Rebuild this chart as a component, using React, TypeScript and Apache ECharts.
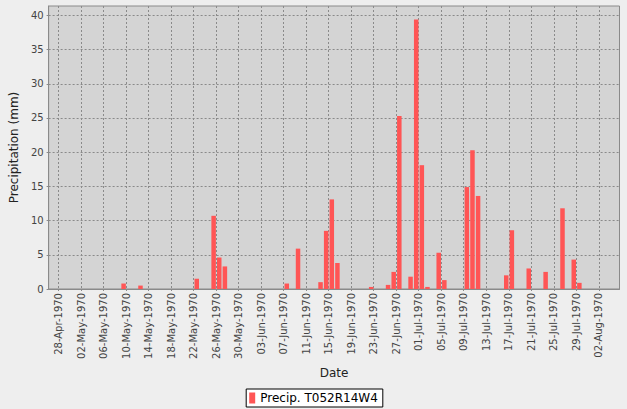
import React, { useEffect, useRef } from 'react';
import * as echarts from 'echarts';

const MONTHS = ['Jan', 'Feb', 'Mar', 'Apr', 'May', 'Jun', 'Jul', 'Aug', 'Sep', 'Oct', 'Nov', 'Dec'];

const precipDates = [
  '1970-05-09', '1970-05-12', '1970-05-22', '1970-05-25', '1970-05-26', '1970-05-27',
  '1970-06-07', '1970-06-09', '1970-06-13', '1970-06-14', '1970-06-15', '1970-06-16',
  '1970-06-22', '1970-06-25', '1970-06-26', '1970-06-27', '1970-06-29', '1970-06-30',
  '1970-07-01', '1970-07-02', '1970-07-04', '1970-07-05', '1970-07-09', '1970-07-10',
  '1970-07-11', '1970-07-16', '1970-07-17', '1970-07-20', '1970-07-23', '1970-07-26',
  '1970-07-28', '1970-07-29',
];
const precipValues = [
  0.8, 0.5, 1.5, 10.7, 4.6, 3.3,
  0.8, 5.9, 1.0, 8.5, 13.1, 3.8,
  0.3, 0.6, 2.5, 25.3, 1.8, 39.4,
  18.1, 0.3, 5.3, 1.3, 14.9, 20.3,
  13.6, 2.0, 8.6, 3.0, 2.5, 11.8,
  4.3, 0.9,
];

const tickLabels = [
  '28-Apr-1970', '02-May-1970', '06-May-1970', '10-May-1970', '14-May-1970', '18-May-1970',
  '22-May-1970', '26-May-1970', '30-May-1970', '03-Jun-1970', '07-Jun-1970', '11-Jun-1970',
  '15-Jun-1970', '19-Jun-1970', '23-Jun-1970', '27-Jun-1970', '01-Jul-1970', '05-Jul-1970',
  '09-Jul-1970', '13-Jul-1970', '17-Jul-1970', '21-Jul-1970', '25-Jul-1970', '29-Jul-1970',
  '02-Aug-1970',
];
const yTicks = [0, 5, 10, 15, 20, 25, 30, 35, 40];
const seriesName = 'Precip. T052R14W4';
const xAxisTitle = 'Date';
const yAxisTitle = 'Precipitation (mm)';

const DAY = 86400000;
const isoToDay = (s: string) => {
  const [y, m, d] = s.split('-').map(Number);
  return Date.UTC(y, m - 1, d) / DAY;
};
const labelToDay = (s: string) => {
  const [d, mon, y] = s.split('-');
  return Date.UTC(Number(y), MONTHS.indexOf(mon), Number(d)) / DAY;
};
const dayToLabel = (v: number) => {
  const dt = new Date(Math.round(v) * DAY);
  const dd = String(dt.getUTCDate()).padStart(2, '0');
  return `${dd}-${MONTHS[dt.getUTCMonth()]}-${dt.getUTCFullYear()}`;
};

const FONT = 'DejaVu Sans';

export default function App() {
  const ref = useRef<HTMLDivElement>(null);
  useEffect(() => {
    if (!ref.current) return;
    const chart = echarts.init(ref.current, undefined, { renderer: 'svg' });
    const tickDays = tickLabels.map(labelToDay);
    const xMin = tickDays[0] - 1.775;
    const xMax = tickDays[tickDays.length - 1] + 3.68;
    const barOffset = 0.55;
    const data = precipDates.map((d, i) => [isoToDay(d) + barOffset, precipValues[i]]);

    chart.setOption({
      animation: false,
      backgroundColor: '#eeeeee',
      textStyle: { fontFamily: FONT },
      grid: {
        left: 47.5,
        right: 7.5,
        top: 6,
        bottom: 120,
        show: true,
        backgroundColor: '#d4d4d4',
        borderColor: '#8a8a8a',
        borderWidth: 1,
      },
      legend: {
        show: true,
        left: 'center',
        top: 389,
        data: [{ name: seriesName, icon: 'rect' }],
        itemWidth: 6,
        itemHeight: 11,
        padding: [3, 5, 3, 3],
        borderColor: '#000',
        borderWidth: 1,
        backgroundColor: '#ffffff',
        textStyle: { fontFamily: FONT, fontSize: 12, color: '#000' },
      },
      xAxis: {
        type: 'value',
        min: xMin,
        max: xMax,
        name: xAxisTitle,
        nameLocation: 'middle',
        nameGap: 74,
        nameTextStyle: { fontFamily: FONT, fontSize: 12, color: '#222' },
        axisLine: { show: true, lineStyle: { color: '#8a8a8a' } },
        axisTick: { show: true, length: 2, customValues: tickDays, lineStyle: { color: '#8a8a8a' } },
        axisLabel: {
          customValues: tickDays,
          rotate: 90,
          margin: 4,
          fontFamily: FONT,
          fontSize: 10,
          color: '#444',
          formatter: (v: number) => dayToLabel(v),
        },
        splitLine: { show: true, lineStyle: { color: '#8a8a8a', type: [2, 2], width: 1 } },
      },
      yAxis: {
        type: 'value',
        min: 0,
        max: 41.37,
        name: yAxisTitle,
        nameLocation: 'middle',
        nameGap: 23,
        nameTextStyle: { fontFamily: FONT, fontSize: 12, color: '#222' },
        axisLine: { show: true, lineStyle: { color: '#8a8a8a' } },
        axisTick: { show: true, length: 2, customValues: yTicks, lineStyle: { color: '#8a8a8a' } },
        axisLabel: {
          customValues: yTicks,
          margin: 5,
          fontFamily: FONT,
          fontSize: 10,
          color: '#444',
        },
        splitLine: { show: true, lineStyle: { color: '#8a8a8a', type: [2, 2], width: 1 } },
      },
      series: [
        {
          name: seriesName,
          type: 'bar',
          data,
          barWidth: 4.5,
          itemStyle: { color: '#ff5555' },
        },
      ],
    });
    return () => chart.dispose();
  }, []);
  return (
    <div
      ref={ref}
      style={{ position: 'fixed', left: 0, top: 0, width: 627, height: 409 }}
    />
  );
}
